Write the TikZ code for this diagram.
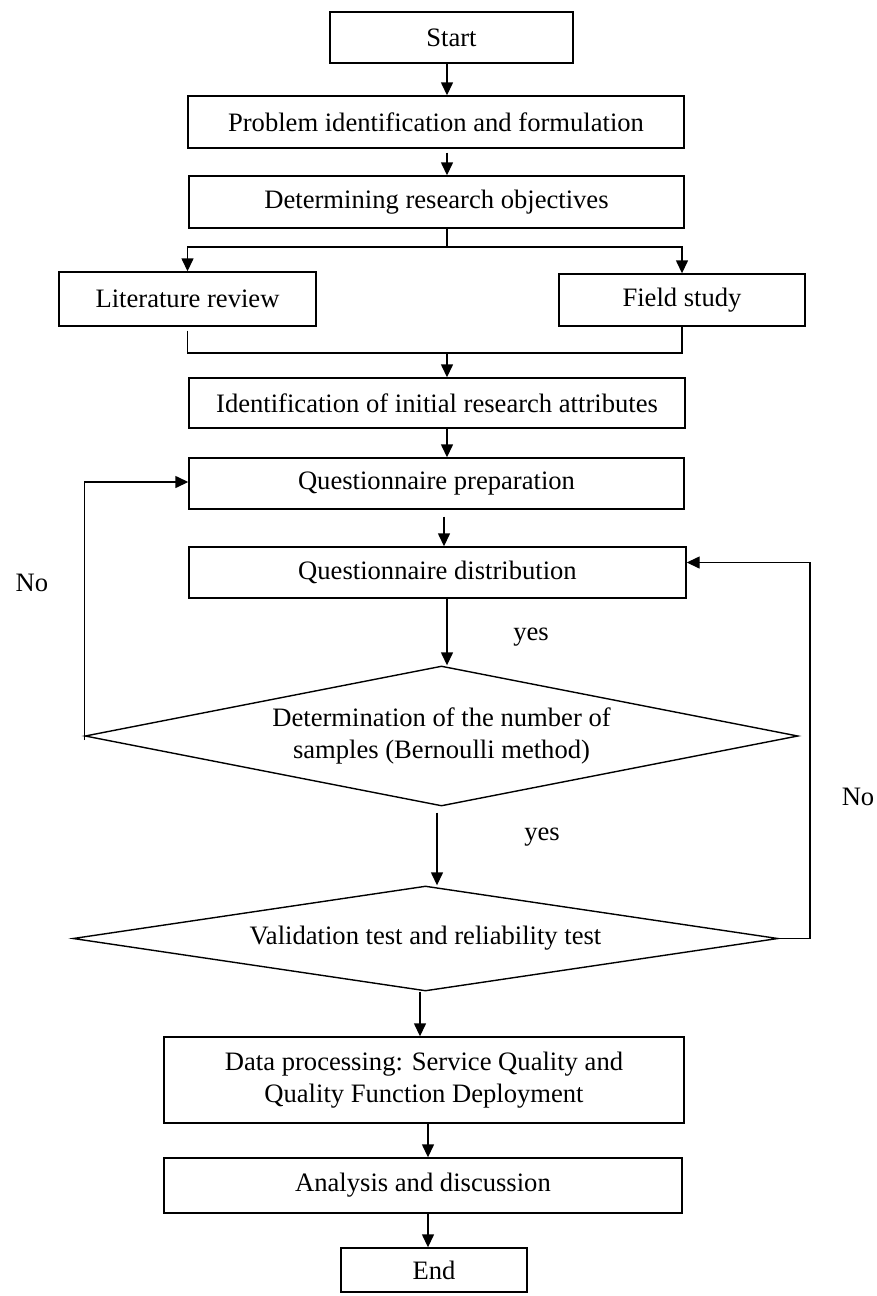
\documentclass[tikz,border=0pt]{standalone}
\usepackage{fontspec}
\setmainfont{Liberation Serif}
\usetikzlibrary{arrows.meta,positioning,shapes.geometric}

\begin{document}
\begin{tikzpicture}[
   x=0.5pt, y=-0.5pt,
   font=\fontsize{13.3}{16}\selectfont,
   process/.style={draw, line width=0.7pt, align=center, inner sep=2pt},
   decision/.style={draw, diamond, line width=0.7pt, align=center,
      inner sep=0pt},
   arrow/.style={-{Triangle[length=6.5pt,width=6pt]}, line width=0.7pt},
   link/.style={line width=0.7pt},
   elab/.style={inner sep=1pt}
]
\useasboundingbox (0,0) rectangle (877,1296);

\node[process, minimum width=121.5pt, minimum height=25.5pt] (start)
   at (451.5,37.5) {Start};
\node[process, minimum width=248pt, minimum height=26pt] (prob)
   at (436,122) {Problem identification and formulation};
\node[process, minimum width=247.5pt, minimum height=26pt] (obj)
   at (436.5,202) {Determining research objectives};
\node[process, minimum width=128.5pt, minimum height=27pt] (lit)
   at (187.5,299) {Literature review};
\node[process, minimum width=123pt, minimum height=26pt] (field)
   at (682,300) {Field study};
\node[process, minimum width=248pt, minimum height=25pt] (ident)
   at (437,403) {Identification of initial research attributes};
\node[process, minimum width=247.5pt, minimum height=25.5pt] (prep)
   at (436.5,483.5) {Questionnaire preparation};
\node[process, minimum width=248.5pt, minimum height=25.5pt] (dist)
   at (437.5,572.5) {Questionnaire distribution};
\node[decision, aspect=5.09, minimum width=356.5pt, minimum height=70pt] (samp)
   at (441.5,736) {Determination of the number of\\samples (Bernoulli method)};
\node[decision, aspect=6.71, minimum width=352.5pt, minimum height=52.5pt] (valid)
   at (425.5,938.5) {Validation test and reliability test};
\node[process, minimum width=260pt, minimum height=43pt] (data)
   at (424,1080) {Data processing: Service Quality and\\Quality Function Deployment};
\node[process, minimum width=259pt, minimum height=27.5pt] (anal)
   at (423,1185.5) {Analysis and discussion};
\node[process, minimum width=93pt, minimum height=22pt] (end)
   at (434,1270) {End};

\node[elab] (noleft) at (32,583) {No};
\node[elab] (noright) at (858,797) {No};
\node[elab] (yesup) at (531,637) {yes};
\node[elab] (yesdown) at (542,837) {yes};

% helper columns and rows
\coordinate (ax) at (447,0);
\coordinate (bx) at (444,0);
\coordinate (cx) at (437,0);
\coordinate (dx) at (420,0);
\coordinate (ex) at (428,0);
\coordinate (rx) at (810,0);
\coordinate (br) at (0,247);
\coordinate (jn) at (0,353);

\draw[arrow] (start.south -| ax) -- (prob.north -| ax);
\draw[arrow] ([yshift=-2pt]prob.south -| ax) -- (obj.north -| ax);
\draw[link] (obj.south -| ax) -- (ax |- br);
\draw[arrow] (ax |- br) -| (lit.north);
\draw[arrow] (ax |- br) -| (field.north);
\draw[link] ([yshift=-2pt]lit.south) |- (jn -| field.south) -- (field.south);
\draw[arrow] (ax |- jn) -- (ident.north -| ax);
\draw[arrow] (ident.south -| ax) -- (prep.north -| ax);
\draw[arrow] ([yshift=-3.5pt]prep.south -| bx) -- (dist.north -| bx);
\draw[arrow] (dist.south -| ax) -- (samp.north -| ax);
\draw[arrow] ([yshift=-2pt]samp.west) |- ([yshift=0.75pt]prep.west);
\draw[arrow] ([yshift=-3pt]samp.south -| cx) -- (valid.north -| cx);
\draw[arrow] (valid.east) -- (rx |- valid.east) |- ([yshift=5pt]dist.east);
\draw[arrow] (valid.south -| dx) -- (data.north -| dx);
\draw[arrow] (data.south -| ex) -- (anal.north -| ex);
\draw[arrow] (anal.south -| ex) -- (end.north -| ex);
\end{tikzpicture}
\end{document}
